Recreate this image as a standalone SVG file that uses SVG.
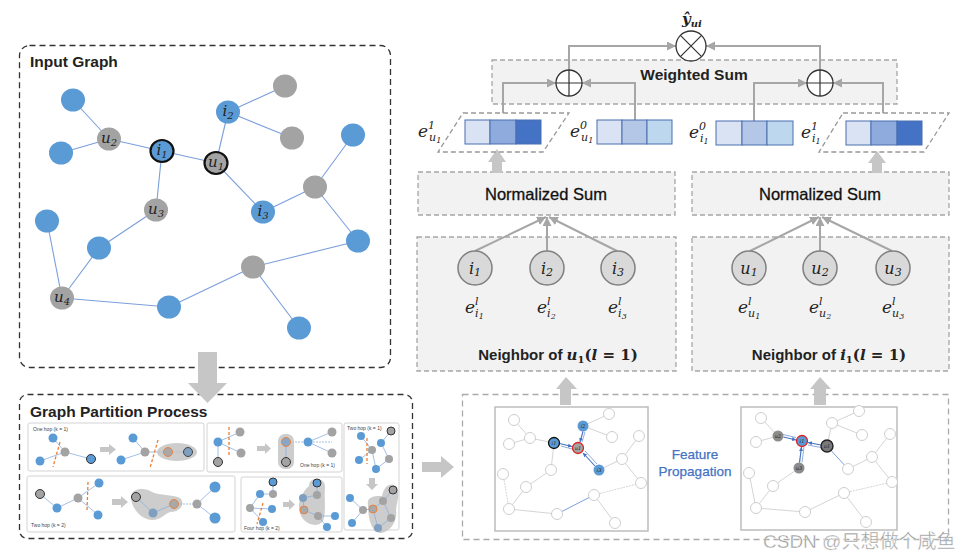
<svg xmlns="http://www.w3.org/2000/svg" width="968" height="554" viewBox="0 0 968 554">
<style>
.sans{font-family:"Liberation Sans",Arial,sans-serif}
.b{font-weight:bold}
.m{font-family:"DejaVu Serif","Liberation Serif",serif;font-style:italic;fill:#222}
.mb{font-family:"DejaVu Serif","Liberation Serif",serif;font-weight:bold}
.frame{fill:none;stroke:#333;stroke-width:1.3;stroke-dasharray:6,4}
.gbox{fill:#f2f2f2;stroke:#a6a6a6;stroke-width:1.3;stroke-dasharray:5,3}
.edge{stroke:#7b9fdc;stroke-width:1.1;fill:none}
.nb{fill:#5b9bd5}
.ng{fill:#a3a3a3}
.hl{stroke:#111;stroke-width:2.2}
.conn{stroke:#a6a6a6;stroke-width:2;fill:none}
.blk{fill:#c6c6c6}
.op{fill:#fff;stroke:#333;stroke-width:1.3}
.cell{stroke:#4a6fb0;stroke-width:1}
.nn{fill:#d9d9d9;stroke:#808080;stroke-width:1.5}
.pan{fill:#fff;stroke:#d3d3d3;stroke-width:1}
.te{stroke:#8aaee0;stroke-width:0.8;fill:none}
.or{stroke:#ed7d31;stroke-width:1.3;stroke-dasharray:3,2}
.blob{fill:#c4c4c4;opacity:0.85}
.tb{fill:#5b9bd5}
.tg{fill:#a3a3a3}
.tk{stroke:#333;stroke-width:1}
.tiny{font-family:"Liberation Sans",Arial,sans-serif;font-size:5px;fill:#444}
.ie{stroke:#cfcfcf;stroke-width:0.9;fill:none}
.iw{fill:#fff;stroke:#c8c8c8;stroke-width:0.9}
.ba{stroke:#4472c4;stroke-width:1.1;fill:none}
</style>
<defs>
<marker id="ah" markerUnits="userSpaceOnUse" markerWidth="10" markerHeight="10" refX="9" refY="4.5" orient="auto"><path d="M0,0 L9,4.5 L0,9 Z" fill="#a6a6a6"/></marker>
<marker id="bh" markerUnits="userSpaceOnUse" markerWidth="6" markerHeight="6" refX="4" refY="2" orient="auto"><path d="M0,0 L4,2 L0,4 Z" fill="#4472c4"/></marker>
</defs>
<rect width="968" height="554" fill="#fff"/>

<!-- Input graph -->
<g id="input-graph">
<rect class="frame" x="19.5" y="45.5" width="371" height="322" rx="10"/>
<text class="sans b" x="30" y="67" font-size="15.5" fill="#222">Input Graph</text>
<g class="edge">
<line x1="73" y1="100" x2="109" y2="139"/><line x1="61" y1="153" x2="109" y2="139"/>
<line x1="109" y1="139" x2="162" y2="151"/><line x1="162" y1="151" x2="216" y2="163"/>
<line x1="162" y1="151" x2="156" y2="210"/><line x1="216" y1="163" x2="228" y2="112"/>
<line x1="228" y1="112" x2="285" y2="86"/><line x1="228" y1="112" x2="292" y2="138"/>
<line x1="216" y1="163" x2="263" y2="212"/><line x1="263" y1="212" x2="315" y2="187"/>
<line x1="315" y1="187" x2="353" y2="135"/><line x1="315" y1="187" x2="358" y2="241"/>
<line x1="156" y1="210" x2="99" y2="248"/><line x1="99" y1="248" x2="62" y2="298"/>
<line x1="47" y1="221" x2="62" y2="298"/><line x1="62" y1="298" x2="169" y2="307"/>
<line x1="169" y1="307" x2="253" y2="267"/><line x1="253" y1="267" x2="358" y2="241"/>
<line x1="253" y1="267" x2="299" y2="328"/>
</g>
<ellipse class="nb" cx="73" cy="100" rx="12" ry="11.5"/>
<ellipse class="ng" cx="285" cy="86" rx="12" ry="11.5"/>
<ellipse class="nb" cx="228" cy="112" rx="12" ry="11.5"/>
<ellipse class="ng" cx="292" cy="138" rx="12" ry="11.5"/>
<ellipse class="nb" cx="353" cy="135" rx="12" ry="11.5"/>
<ellipse class="ng" cx="109" cy="139" rx="12" ry="11.5"/>
<ellipse class="nb" cx="61" cy="153" rx="12" ry="11.5"/>
<ellipse class="nb hl" cx="162" cy="151" rx="11.5" ry="11"/>
<ellipse class="ng hl" cx="216" cy="163" rx="11.5" ry="11"/>
<ellipse class="ng" cx="315" cy="187" rx="12" ry="11.5"/>
<ellipse class="ng" cx="156" cy="210" rx="12" ry="11.5"/>
<ellipse class="nb" cx="263" cy="212" rx="12" ry="11.5"/>
<ellipse class="nb" cx="47" cy="221" rx="12" ry="11.5"/>
<ellipse class="nb" cx="358" cy="241" rx="12" ry="11.5"/>
<ellipse class="nb" cx="99" cy="248" rx="12" ry="11.5"/>
<ellipse class="ng" cx="253" cy="267" rx="12" ry="11.5"/>
<ellipse class="ng" cx="62" cy="298" rx="12" ry="11.5"/>
<ellipse class="nb" cx="169" cy="307" rx="12" ry="11.5"/>
<ellipse class="nb" cx="299" cy="328" rx="12" ry="11.5"/>
<g class="m" font-size="15" text-anchor="middle">
<text x="109" y="143">u<tspan font-size="10" dy="3">2</tspan></text>
<text x="162" y="155">i<tspan font-size="10" dy="3">1</tspan></text>
<text x="216" y="167">u<tspan font-size="10" dy="3">1</tspan></text>
<text x="228" y="116">i<tspan font-size="10" dy="3">2</tspan></text>
<text x="156" y="214">u<tspan font-size="10" dy="3">3</tspan></text>
<text x="263" y="216">i<tspan font-size="10" dy="3">3</tspan></text>
<text x="62" y="302">u<tspan font-size="10" dy="3">4</tspan></text>
</g>
</g>

<!-- Graph partition -->
<g id="graph-partition">
<rect class="frame" x="19.5" y="394.5" width="393" height="144" rx="8"/>
<text class="sans b" x="30" y="417" font-size="15.5" fill="#222">Graph Partition Process</text>
<rect class="pan" x="28" y="423" width="176" height="48" rx="2"/>
<text class="tiny" x="33" y="431">One hop (k = 1)</text>
<g class="te"><line x1="53" y1="438" x2="65" y2="452"/><line x1="40" y1="461" x2="65" y2="452"/><line x1="65" y1="452" x2="91" y2="459"/>
<line x1="133" y1="438" x2="145" y2="452"/><line x1="121" y1="460" x2="145" y2="452"/><line x1="145" y1="452" x2="188" y2="452"/></g>
<line class="or" x1="60" y1="442" x2="53" y2="467"/>
<circle class="tb" cx="53" cy="438" r="4.5"/><circle class="tg" cx="65" cy="452" r="4.5"/><circle class="tb" cx="40" cy="461" r="4.5"/><circle class="tb tk" cx="91" cy="459" r="4.5"/>
<path class="blk" d="M100,447 H109 V444 L116,449.5 L109,455 V452 H100 Z"/>
<ellipse class="blob" cx="177" cy="452" rx="20" ry="9"/>
<line class="or" x1="158" y1="440" x2="150" y2="468"/>
<circle class="tb" cx="133" cy="438" r="4.5"/><circle class="tg" cx="145" cy="452" r="4.5"/><circle class="tb" cx="121" cy="460" r="4.5"/>
<circle cx="168" cy="452" r="4.5" fill="#a8a8a8" stroke="#ed7d31" stroke-width="0.9"/><circle cx="188" cy="452" r="4.5" fill="#7f9fc0" stroke="#444" stroke-width="1"/>
<rect class="pan" x="207" y="423" width="135" height="49" rx="2"/>
<g class="te"><line x1="218" y1="442" x2="240" y2="432"/><line x1="218" y1="442" x2="241" y2="453"/><line x1="218" y1="442" x2="218" y2="462"/>
<line x1="286" y1="442" x2="332" y2="442" stroke-dasharray="2,1"/><line x1="308" y1="442" x2="332" y2="432"/><line x1="308" y1="442" x2="332" y2="453"/></g>
<line class="or" x1="229" y1="427" x2="229" y2="455"/>
<circle class="tb" cx="218" cy="442" r="4.5"/><circle class="tg" cx="240" cy="432" r="4.5"/><circle class="tg" cx="241" cy="453" r="4.5"/><circle class="tg tk" cx="218" cy="462" r="4.5"/>
<path class="blk" d="M257,446 H265 V443 L271,448.5 L265,454 V451 H257 Z"/>
<rect class="blob" x="278" y="434" width="16" height="35" rx="7"/>
<line class="te" x1="286" y1="442" x2="286" y2="462"/>
<circle cx="286" cy="442" r="4.5" fill="#8aa6c6" stroke="#ed7d31" stroke-width="0.9"/><circle class="tg tk" cx="286" cy="462" r="4.5"/>
<circle class="tb" cx="308" cy="442" r="4.5"/><circle class="tg" cx="332" cy="432" r="4.5"/><circle class="tg" cx="332" cy="453" r="4.5"/>
<text class="tiny" x="300" y="467" font-size="4.5">One hop (k = 1)</text>
<rect class="pan" x="344" y="423" width="55" height="107" rx="2"/>
<text class="tiny" x="347" y="430" font-size="4.5">Two hop (k = 1)</text>
<g class="te"><line x1="361" y1="436" x2="372" y2="450"/><line x1="381" y1="443" x2="391" y2="431"/><line x1="372" y1="450" x2="359" y2="460"/><line x1="372" y1="450" x2="376" y2="469"/><line x1="376" y1="469" x2="389" y2="459"/><line x1="389" y1="459" x2="381" y2="443"/></g>
<line class="or" x1="367" y1="438" x2="367" y2="464"/>
<circle class="tb" cx="361" cy="436" r="4"/><circle class="tg tk" cx="391" cy="431" r="4"/><circle class="tb" cx="381" cy="443" r="4"/><circle class="tg" cx="372" cy="450" r="4"/><circle class="tb" cx="359" cy="460" r="4"/><circle class="tg" cx="389" cy="459" r="4"/><circle class="tb" cx="376" cy="469" r="4"/>
<path class="blk" d="M369,478 H375 V484 H378 L372,490 L366,484 H369 Z"/>
<path class="blob" d="M368,505 C366,496 376,496 382,496 C384,486 390,482 396,486 C401,492 397,500 396,510 C398,520 390,533 380,533 C372,532 368,520 368,505 Z"/>
<g class="te"><line x1="350" y1="498" x2="363" y2="510"/><line x1="363" y1="510" x2="373" y2="509"/><line x1="363" y1="510" x2="352" y2="523"/><line x1="373" y1="509" x2="378" y2="528"/><line x1="373" y1="509" x2="383" y2="501"/><line x1="383" y1="501" x2="393" y2="490"/><line x1="378" y1="528" x2="391" y2="518"/><line x1="391" y1="518" x2="383" y2="501"/></g>
<circle class="tb" cx="350" cy="498" r="4"/><circle class="tg" cx="363" cy="510" r="4"/><circle cx="373" cy="509" r="4" fill="#a8a8a8" stroke="#ed7d31" stroke-width="0.9"/><circle class="tg" cx="383" cy="501" r="4"/><circle class="tg tk" cx="393" cy="490" r="4"/><circle class="tg" cx="391" cy="518" r="4"/><circle cx="378" cy="528" r="4" fill="#7f9fc0"/><circle class="tb" cx="352" cy="523" r="4"/>
<rect class="pan" x="27" y="476" width="208" height="56" rx="2"/>
<g class="te"><line x1="40" y1="494" x2="57" y2="508"/><line x1="57" y1="508" x2="78" y2="498"/><line x1="78" y1="498" x2="99" y2="483"/><line x1="78" y1="498" x2="98" y2="515"/></g>
<line class="or" x1="88" y1="482" x2="87" y2="511"/>
<circle class="tg tk" cx="40" cy="494" r="4.5"/><circle class="tb" cx="57" cy="508" r="4.5"/><circle class="tg" cx="78" cy="498" r="4.5"/><circle class="tb" cx="99" cy="483" r="4.5"/><circle class="tb" cx="98" cy="515" r="4.5"/>
<path class="blk" d="M112,499 H121 V496 L128,502 L121,508 V505 H112 Z"/>
<path class="blob" d="M131,497 C131,488 145,487 152,492 C160,496 172,494 180,498 C186,504 180,512 170,512 C164,514 160,521 151,520 C141,519 131,508 131,497 Z"/>
<g class="te"><line x1="136" y1="497" x2="153" y2="513"/><line x1="153" y1="513" x2="174" y2="504"/><line x1="174" y1="504" x2="197" y2="504" stroke-dasharray="2,1"/><line x1="197" y1="504" x2="215" y2="487"/><line x1="197" y1="504" x2="215" y2="518"/></g>
<circle class="tg tk" cx="136" cy="497" r="4.5"/><circle cx="153" cy="513" r="4.5" fill="#7f9fc0"/><circle cx="174" cy="504" r="4.5" fill="#a8a8a8" stroke="#ed7d31" stroke-width="0.9"/><circle class="tg" cx="197" cy="504" r="4.5"/><circle class="tb" cx="215" cy="487" r="5.5"/><circle class="tb" cx="215" cy="518" r="5.5"/>
<text class="tiny" x="31" y="527">Two hop (k = 2)</text>
<rect class="pan" x="241" y="477" width="101" height="55" rx="2"/>
<g class="te"><line x1="273" y1="482" x2="273" y2="494"/><line x1="260" y1="494" x2="250" y2="508"/><line x1="250" y1="508" x2="272" y2="509"/><line x1="250" y1="508" x2="263" y2="522"/><line x1="273" y1="494" x2="260" y2="494"/></g>
<line class="or" x1="263" y1="503" x2="257" y2="524"/>
<circle class="tb tk" cx="273" cy="482" r="4"/><circle class="tb" cx="260" cy="494" r="4"/><circle class="tg" cx="273" cy="494" r="4"/><circle class="tg" cx="250" cy="508" r="4"/><circle class="tb" cx="272" cy="509" r="4"/><circle class="tb" cx="263" cy="522" r="4"/>
<path class="blk" d="M283,502 H289 V499 L295,504.5 L289,510 V507 H283 Z"/>
<path class="blob" d="M309,486 C309,476 326,476 325,488 C324,497 326,508 324,518 C322,527 310,527 303,519 C296,510 298,496 309,486 Z"/>
<g class="te"><line x1="317" y1="483" x2="317" y2="495"/><line x1="317" y1="495" x2="303" y2="498"/><line x1="303" y1="498" x2="304" y2="510"/><line x1="304" y1="510" x2="318" y2="516"/><line x1="318" y1="516" x2="335" y2="516"/><line x1="318" y1="516" x2="327" y2="527"/></g>
<circle class="tb tk" cx="317" cy="483" r="4"/><circle class="tg" cx="317" cy="495" r="4"/><circle cx="303" cy="498" r="4" fill="#7f9fc0"/><circle cx="304" cy="510" r="4" fill="#a8a8a8" stroke="#ed7d31" stroke-width="0.9"/><circle class="tg" cx="318" cy="516" r="4"/><circle class="tb" cx="335" cy="516" r="4"/><circle class="tb" cx="327" cy="527" r="4"/>
<text class="tiny" x="244" y="530" font-size="4.5">Four hop (k = 2)</text>
</g>

<!-- Weighted sum -->
<g id="weighted-sum">
<rect class="gbox" x="492" y="60" width="405" height="44"/>
<text class="sans b" x="694" y="80" font-size="15.5" text-anchor="middle" fill="#222">Weighted Sum</text>
</g>

<!-- Normalized sums -->
<g id="norm-left">
<rect class="gbox" x="418" y="172" width="257" height="43"/>
<text class="sans" x="546" y="200" font-size="16.5" text-anchor="middle" fill="#111" stroke="#111" stroke-width="0.3">Normalized Sum</text>
</g>
<g id="norm-right">
<rect class="gbox" x="692" y="172" width="257" height="43"/>
<text class="sans" x="820" y="200" font-size="16.5" text-anchor="middle" fill="#111" stroke="#111" stroke-width="0.3">Normalized Sum</text>
</g>

<!-- Neighbor boxes -->
<g id="neighbor-u1">
<rect class="gbox" x="417" y="237" width="259" height="134"/>
<g class="conn"><line x1="475" y1="251" x2="546" y2="217" marker-end="url(#ah)"/><line x1="547" y1="251" x2="547" y2="217" marker-end="url(#ah)"/><line x1="617" y1="251" x2="549" y2="217" marker-end="url(#ah)"/></g>
<circle class="nn" cx="475" cy="268" r="17"/><circle class="nn" cx="547" cy="268" r="17"/><circle class="nn" cx="618" cy="268" r="17"/>
<g class="m" font-size="16" text-anchor="middle">
<text x="475" y="274">i<tspan font-size="11" dy="2">1</tspan></text>
<text x="547" y="274">i<tspan font-size="11" dy="2">2</tspan></text>
<text x="618" y="274">i<tspan font-size="11" dy="2">3</tspan></text>
</g>
<g class="m" font-size="17">
<text x="465" y="313">e<tspan font-size="11" dy="-8">l</tspan><tspan font-size="11" dx="-3.5" dy="12">i</tspan><tspan font-size="8" dy="2">1</tspan></text>
<text x="537" y="313">e<tspan font-size="11" dy="-8">l</tspan><tspan font-size="11" dx="-3.5" dy="12">i</tspan><tspan font-size="8" dy="2">2</tspan></text>
<text x="608" y="313">e<tspan font-size="11" dy="-8">l</tspan><tspan font-size="11" dx="-3.5" dy="12">i</tspan><tspan font-size="8" dy="2">3</tspan></text>
</g>
<text class="sans b" x="558" y="360" font-size="15" text-anchor="middle" fill="#222">Neighbor of <tspan class="mb" font-style="italic">u</tspan><tspan class="mb" font-size="10" dy="3">1</tspan><tspan class="mb" dy="-3">(</tspan><tspan class="mb" font-style="italic">l</tspan><tspan class="mb"> = 1)</tspan></text>
</g>
<g id="neighbor-i1">
<rect class="gbox" x="692" y="237" width="257" height="134"/>
<g class="conn"><line x1="750" y1="251" x2="819" y2="217" marker-end="url(#ah)"/><line x1="820" y1="251" x2="820" y2="217" marker-end="url(#ah)"/><line x1="892" y1="251" x2="822" y2="217" marker-end="url(#ah)"/></g>
<circle class="nn" cx="749" cy="268" r="17"/><circle class="nn" cx="820" cy="268" r="17"/><circle class="nn" cx="893" cy="268" r="17"/>
<g class="m" font-size="16" text-anchor="middle">
<text x="749" y="274">u<tspan font-size="11" dy="2">1</tspan></text>
<text x="820" y="274">u<tspan font-size="11" dy="2">2</tspan></text>
<text x="893" y="274">u<tspan font-size="11" dy="2">3</tspan></text>
</g>
<g class="m" font-size="17">
<text x="738" y="313">e<tspan font-size="11" dy="-8">l</tspan><tspan font-size="11" dx="-3.5" dy="12">u</tspan><tspan font-size="8" dy="2">1</tspan></text>
<text x="809" y="313">e<tspan font-size="11" dy="-8">l</tspan><tspan font-size="11" dx="-3.5" dy="12">u</tspan><tspan font-size="8" dy="2">2</tspan></text>
<text x="882" y="313">e<tspan font-size="11" dy="-8">l</tspan><tspan font-size="11" dx="-3.5" dy="12">u</tspan><tspan font-size="8" dy="2">3</tspan></text>
</g>
<text class="sans b" x="829" y="360" font-size="15" text-anchor="middle" fill="#222">Neighbor of <tspan class="mb" font-style="italic">i</tspan><tspan class="mb" font-size="10" dy="3">1</tspan><tspan class="mb" dy="-3">(</tspan><tspan class="mb" font-style="italic">l</tspan><tspan class="mb"> = 1)</tspan></text>
</g>

<!-- Feature propagation -->
<g id="feature-propagation">
<rect x="462.5" y="394.5" width="486" height="145" fill="none" stroke="#aaa" stroke-width="1.3" stroke-dasharray="6,4"/>
<text class="sans" x="695" y="459" font-size="13.5" text-anchor="middle" fill="#4472c4" stroke="#4472c4" stroke-width="0.25">Feature</text>
<text class="sans" x="695" y="476" font-size="13.5" text-anchor="middle" fill="#4472c4" stroke="#4472c4" stroke-width="0.25">Propagation</text>
</g>

<!-- Connectors -->
<g id="connectors">
<path class="blk" d="M198,352 H217 V383 H227 L207.5,403 L188,383 H198 Z"/>
<path class="blk" d="M422,462 H441 V456 L454,467 L441,478 V472 H422 Z"/>
<path class="blk" d="M560,405 V389 H556 L566,377 L577,389 H571 V405 Z"/>
<path class="blk" d="M814,405 V389 H810 L820,377 L831,389 H826 V405 Z"/>
<path class="blk" d="M492,173 V162 H488 L497,149 L506,162 H502 V173 Z"/>
<path class="blk" d="M872,173 V163 H868 L877,151 L886,163 H882 V173 Z"/>
<path class="conn" d="M569,70 V46 H676" marker-end="url(#ah)"/>
<path class="conn" d="M820,70 V46 H706" marker-end="url(#ah)"/>
<path class="conn" d="M503,113 V83 H556" marker-end="url(#ah)"/>
<path class="conn" d="M635,120 V83 H582" marker-end="url(#ah)"/>
<path class="conn" d="M754,121 V83 H807" marker-end="url(#ah)"/>
<path class="conn" d="M883,113 V83 H833" marker-end="url(#ah)"/>
</g>

<g id="output">
<circle class="op" cx="691" cy="46" r="15"/>
<path d="M680.4,35.4 L701.6,56.6 M701.6,35.4 L680.4,56.6" stroke="#333" stroke-width="1.2"/>
<text class="mb" x="682" y="24" font-size="15" font-style="italic" fill="#222">ŷ<tspan font-size="10" dy="3">ui</tspan></text>
</g>
<g id="sum-left">
<circle class="op" cx="569" cy="83" r="13"/>
<path d="M556,83 H582 M569,70 V96" stroke="#333" stroke-width="1.2"/>
</g>
<g id="sum-right">
<circle class="op" cx="820" cy="83" r="13"/>
<path d="M807,83 H833 M820,70 V96" stroke="#333" stroke-width="1.2"/>
</g>

<!-- Embedding vectors -->
<g id="vec-u1-1">
<path d="M463,113 H569 L543,152 H438 Z" fill="none" stroke="#999" stroke-width="1.3" stroke-dasharray="5,3"/>
<rect class="cell" x="465" y="120" width="25" height="24" fill="#dae3f3"/>
<rect class="cell" x="490" y="120" width="26" height="24" fill="#8faadc"/>
<rect class="cell" x="516" y="120" width="25" height="24" fill="#4472c4"/>
<text class="m" x="418" y="137" font-size="17">e<tspan font-size="11" dy="-8">1</tspan><tspan font-size="11" dx="-6" dy="12">u</tspan><tspan font-size="8" dy="2">1</tspan></text>
</g>
<g id="vec-u1-0">
<rect class="cell" x="597" y="120" width="25" height="24" fill="#dae3f3"/>
<rect class="cell" x="622" y="120" width="25" height="24" fill="#b4c7e7"/>
<rect class="cell" x="647" y="120" width="25" height="24" fill="#bdd7ee"/>
<text class="m" x="570" y="137" font-size="17">e<tspan font-size="11" dy="-8">0</tspan><tspan font-size="11" dx="-6" dy="12">u</tspan><tspan font-size="8" dy="2">1</tspan></text>
</g>
<g id="vec-i1-0">
<rect class="cell" x="716" y="121" width="26" height="24" fill="#dae3f3"/>
<rect class="cell" x="742" y="121" width="25" height="24" fill="#b4c7e7"/>
<rect class="cell" x="767" y="121" width="26" height="24" fill="#bdd7ee"/>
<text class="m" x="689" y="138" font-size="17">e<tspan font-size="11" dy="-8">0</tspan><tspan font-size="11" dx="-6" dy="12">i</tspan><tspan font-size="8" dy="2">1</tspan></text>
</g>
<g id="vec-i1-1">
<path d="M843,113 H949 L924,152 H819 Z" fill="none" stroke="#999" stroke-width="1.3" stroke-dasharray="5,3"/>
<rect class="cell" x="846" y="121" width="25" height="24" fill="#dae3f3"/>
<rect class="cell" x="871" y="121" width="26" height="24" fill="#8faadc"/>
<rect class="cell" x="897" y="121" width="25" height="24" fill="#4472c4"/>
<text class="m" x="801" y="138" font-size="17">e<tspan font-size="11" dy="-8">1</tspan><tspan font-size="11" dx="-6" dy="12">i</tspan><tspan font-size="8" dy="2">1</tspan></text>
</g>

<g id="prop-left">
<rect x="495" y="407" width="153" height="124" fill="#fff" stroke="#bdbdbd" stroke-width="1.5"/>
<g class="ie">
<line x1="514" y1="420" x2="530" y2="438"/><line x1="509" y1="444" x2="530" y2="438"/><line x1="530" y1="438" x2="554" y2="443"/>
<line x1="554" y1="443" x2="551" y2="470"/><line x1="583" y1="426" x2="609" y2="414"/><line x1="583" y1="426" x2="612" y2="437"/>
<line x1="599" y1="470" x2="622" y2="459"/><line x1="622" y1="459" x2="639" y2="436"/><line x1="622" y1="459" x2="641" y2="483"/>
<line x1="551" y1="470" x2="526" y2="487"/><line x1="526" y1="487" x2="509" y2="509"/><line x1="503" y1="474" x2="509" y2="509" stroke-dasharray="2,1"/>
<line x1="509" y1="509" x2="557" y2="514"/><line x1="594" y1="495" x2="641" y2="483" stroke-dasharray="2,1"/><line x1="594" y1="495" x2="615" y2="523"/>
</g>
<line x1="557" y1="514" x2="594" y2="495" stroke="#6f95d8" stroke-width="0.9"/>
<circle class="iw" cx="514" cy="420" r="5.5"/><circle class="iw" cx="609" cy="414" r="5.5"/><circle class="iw" cx="612" cy="437" r="5.5"/><circle class="iw" cx="639" cy="436" r="5.5"/>
<circle class="iw" cx="530" cy="438" r="5.5"/><circle class="iw" cx="509" cy="444" r="5.5"/><circle class="iw" cx="622" cy="459" r="5.5"/><circle class="iw" cx="551" cy="470" r="5.5"/>
<circle class="iw" cx="503" cy="474" r="5.5"/><circle class="iw" cx="641" cy="483" r="5.5"/><circle class="iw" cx="526" cy="487" r="5.5"/><circle class="iw" cx="594" cy="495" r="5.5"/>
<circle class="iw" cx="509" cy="509" r="5.5"/><circle class="iw" cx="557" cy="514" r="5.5"/><circle class="iw" cx="615" cy="523" r="5.5"/>
<g class="ba"><line x1="559.5" y1="443.5" x2="572" y2="446.5" marker-end="url(#bh)"/><line x1="561" y1="446" x2="572" y2="449" stroke-width="0.6"/>
<line x1="583" y1="431.5" x2="580" y2="442" marker-end="url(#bh)"/><line x1="585" y1="432" x2="582" y2="442" stroke-width="0.6"/>
<line x1="595" y1="466" x2="583" y2="453" marker-end="url(#bh)"/><line x1="597" y1="464" x2="585" y2="451" stroke-width="0.6"/></g>
<circle cx="554" cy="443" r="5.5" fill="#5b9bd5" stroke="#111" stroke-width="1.3"/>
<circle cx="578" cy="448" r="5.5" fill="#a3a3a3" stroke="#e02020" stroke-width="1.3"/>
<circle cx="583" cy="426" r="5.5" fill="#5b9bd5"/>
<circle cx="599" cy="470" r="5.5" fill="#5b9bd5"/>
<g class="m" font-size="5" text-anchor="middle" fill="#222"><text x="554" y="445">i1</text><text x="578" y="450">u1</text><text x="583" y="428">i2</text><text x="599" y="472">i3</text></g>
</g>
<g id="prop-right">
<rect x="741" y="407" width="156" height="123" fill="#fff" stroke="#bdbdbd" stroke-width="1.5"/>
<g class="ie">
<line x1="761" y1="418" x2="778" y2="436"/><line x1="756" y1="442" x2="778" y2="436"/><line x1="802" y1="441" x2="799" y2="468"/>
<line x1="827" y1="446" x2="832" y2="423"/><line x1="832" y1="423" x2="859" y2="411"/><line x1="832" y1="423" x2="862" y2="435"/>
<line x1="848" y1="469" x2="872" y2="457"/><line x1="872" y1="457" x2="890" y2="434"/><line x1="872" y1="457" x2="892" y2="482"/>
<line x1="799" y1="468" x2="773" y2="486"/><line x1="773" y1="486" x2="756" y2="508"/><line x1="749" y1="473" x2="756" y2="508"/>
<line x1="756" y1="508" x2="805" y2="512"/><line x1="805" y1="512" x2="844" y2="493"/><line x1="844" y1="493" x2="892" y2="482" stroke-dasharray="2,1"/><line x1="844" y1="493" x2="866" y2="522"/>
</g>
<line x1="827" y1="446" x2="848" y2="469" stroke="#6f95d8" stroke-width="0.9"/>
<circle class="iw" cx="761" cy="418" r="5.5"/><circle class="iw" cx="859" cy="411" r="5.5"/><circle class="iw" cx="832" cy="423" r="5.5"/><circle class="iw" cx="862" cy="435" r="5.5"/>
<circle class="iw" cx="890" cy="434" r="5.5"/><circle class="iw" cx="756" cy="442" r="5.5"/><circle class="iw" cx="872" cy="457" r="5.5"/><circle class="iw" cx="848" cy="469" r="5.5"/>
<circle class="iw" cx="749" cy="473" r="5.5"/><circle class="iw" cx="892" cy="482" r="5.5"/><circle class="iw" cx="773" cy="486" r="5.5"/><circle class="iw" cx="844" cy="493" r="5.5"/>
<circle class="iw" cx="756" cy="508" r="5.5"/><circle class="iw" cx="805" cy="512" r="5.5"/><circle class="iw" cx="866" cy="522" r="5.5"/>
<g class="ba"><line x1="783.5" y1="437" x2="796" y2="440" marker-end="url(#bh)"/><line x1="783" y1="434.5" x2="796" y2="437.5" stroke-width="0.6"/>
<line x1="821" y1="445" x2="808" y2="442.5" marker-end="url(#bh)"/><line x1="821" y1="447.5" x2="808" y2="445" stroke-width="0.6"/>
<line x1="799.5" y1="462.5" x2="801.5" y2="447" marker-end="url(#bh)"/><line x1="802" y1="462.5" x2="804" y2="447" stroke-width="0.6"/></g>
<circle cx="778" cy="436" r="5.5" fill="#8c8c8c"/>
<circle cx="799" cy="468" r="5.5" fill="#8c8c8c"/>
<circle cx="827" cy="446" r="6" fill="#7a7a7a" stroke="#222" stroke-width="1.4"/>
<circle cx="802" cy="441" r="5.5" fill="#5b9bd5" stroke="#e02020" stroke-width="1.3"/>
<g class="m" font-size="5" text-anchor="middle" fill="#222"><text x="778" y="438">u2</text><text x="799" y="470">u3</text><text x="827" y="448">u1</text><text x="802" y="443">i1</text></g>
</g>

<text x="763" y="548" font-family="'Liberation Sans','Noto Sans CJK SC',sans-serif" font-size="19" fill="#9a9a9a" stroke="#ffffff" stroke-width="0.4">CSDN @只想做个咸鱼</text>
</svg>
